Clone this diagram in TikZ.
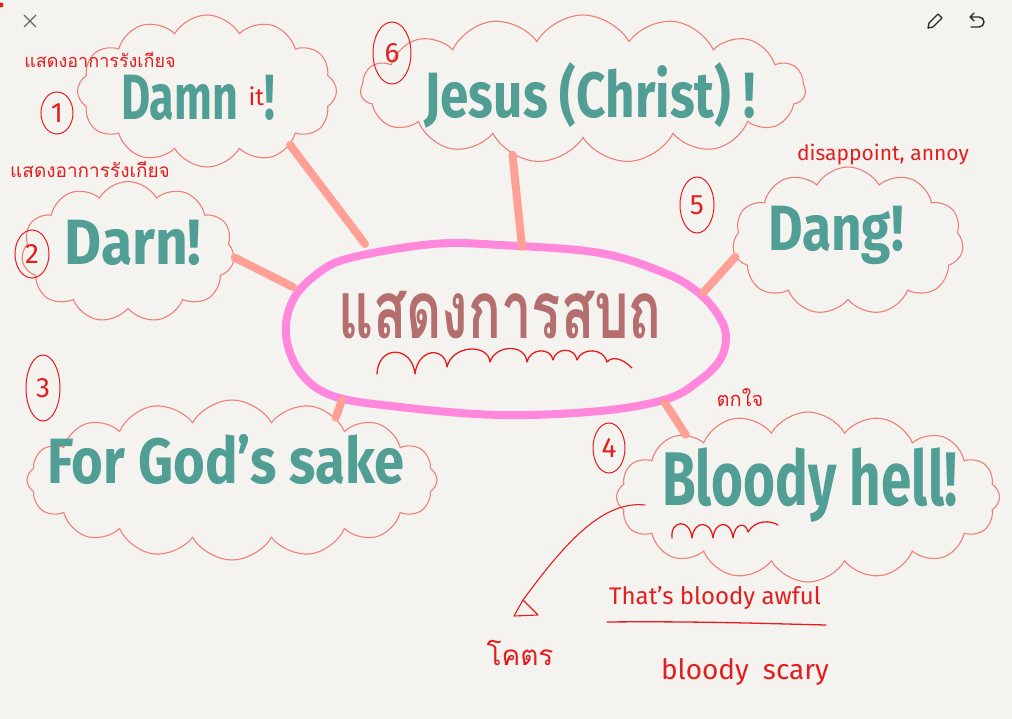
\documentclass[tikz,border=0pt]{standalone}
\usepackage{fontspec}
\setmainfont{Fira Sans}
\newfontfamily\thai[Script=Thai]{Loma}
\usetikzlibrary{shapes.symbols,shapes.geometric,arrows.meta}
\definecolor{bgc}{RGB}{245,243,240}
\definecolor{tealc}{RGB}{80,158,148}
\definecolor{cloudc}{RGB}{238,128,118}
\definecolor{linkc}{RGB}{255,160,150}
\definecolor{pinkc}{RGB}{255,136,220}
\definecolor{brownc}{RGB}{180,110,110}
\definecolor{ink}{RGB}{226,30,30}
\definecolor{iconc}{RGB}{40,40,40}
\newcommand{\hw}[2]{\scalebox{#1}[1]{#2}}
\tikzset{
  cloudbox/.style={cloud, draw=cloudc, line width=1.1pt, cloud ignores aspect, inner sep=0pt, cloud puff arc=120},
  big/.style={text=tealc, font=\fontsize{64}{64}\selectfont\bfseries, inner sep=0pt},
  link/.style={draw=linkc, line width=8pt, line cap=round},
  note/.style={text=ink, inner sep=0pt},
  numc/.style={ellipse, draw=ink, line width=1pt, inner sep=0pt, text=ink, font=\fontsize{28}{28}\selectfont},
  inkline/.style={draw=ink, line width=1.3pt, line cap=round, line join=round},
}
\begin{document}
\begin{tikzpicture}[x=1pt,y=-1pt]
\fill[bgc] (0,0) rectangle (1012,719);
\useasboundingbox (0,0) rectangle (1012,719);

% icons
\fill[ink] (1,5) circle (2.5);
\draw[iconc!70, line width=1.2pt] (24,15) -- (36,27) (24,27) -- (36,15);
\draw[iconc, line width=1.3pt, line join=round] (928,28) -- (929,23) -- (938,14) -- (942,18) -- (933,27) -- cycle;
\draw[iconc, line width=1.4pt, line cap=round, line join=round] (974,13) -- (970,17) -- (974,21) (970,17) -- (979,17) arc[start angle=-90, end angle=90, radius=5] -- (971,27);

% clouds
\node[cloudbox, cloud puffs=12, minimum width=259pt, minimum height=152pt] (c1) at (207,91) {};
\node[cloudbox, cloud puffs=15, minimum width=445pt, minimum height=148pt] (c6) at (583,89) {};
\node[cloudbox, cloud puffs=11, minimum width=213pt, minimum height=141pt] (c2) at (128,252) {};
\node[cloudbox, cloud puffs=11, minimum width=231pt, minimum height=148pt] (c5) at (848,241) {};
\node[cloudbox, cloud puffs=16, minimum width=410pt, minimum height=160pt] (c3) at (232,480) {};
\node[cloudbox, cloud puffs=16, minimum width=383pt, minimum height=170pt] (c4) at (808,497) {};

% central topic
\draw[pinkc, line width=8pt] plot[smooth cycle, tension=0.6] coordinates {
 (500,245) (600,253) (667,274) (700,294) (720,318) (726,338) (720,360) (700,380)
 (667,399) (600,411) (500,415) (400,407) (333,396) (300,372) (286,335) (293,300)
 (317,274) (350,258) (433,244)};
\coordinate (e1) at (365,244);
\coordinate (e2) at (293,287);
\coordinate (e3) at (522,247);
\coordinate (e4) at (703,293);
\coordinate (e5) at (342,400);
\coordinate (e6) at (665,403);
\node[text=brownc, inner sep=0pt, font=\thai\bfseries\fontsize{80}{80}\selectfont] (topic) at (500,315) {\hw{0.68}{แสดงการสบถ}};

% connectors
\draw[link] (c1.-33) -- (e1);
\draw[link] (c2.-3) -- (e2);
\draw[link] (c6.-137) -- (e3);
\draw[link] (c5.-172) -- (e4);
\draw[link] (c3.31) -- (e5);
\draw[link] (c4.153) -- (e6);

% main phrases
\node[big] (t1) at (198,98) {\hw{0.7}{Damn}\,\raisebox{14pt}{\fontsize{24}{24}\selectfont\color{ink}\mdseries it}\hw{0.7}{!}};
\node[big] (t6) at (590,95) {\hw{0.8}{Jesus (Christ) !}};
\node[big] (t2) at (133,243) {\hw{0.89}{Darn!}};
\node[big] (t5) at (836,235) {\hw{0.83}{Dang!}};
\node[big] (t3) at (226,460) {\hw{0.85}{For God's sake}};
\node[big, font=\fontsize{76}{76}\selectfont\bfseries] (t4) at (810,485) {\hw{0.72}{Bloody hell!}};

% numbers
\node[numc, minimum width=32pt, minimum height=42pt] (n1) at (57,113) {1};
\node[numc, minimum width=34pt, minimum height=48pt] (n2) at (32,254) {2};
\node[numc, minimum width=34pt, minimum height=66pt] (n3) at (43,388) {3};
\node[numc, minimum width=32pt, minimum height=50pt] (n4) at (609,448) {4};
\node[numc, minimum width=34pt, minimum height=56pt] (n5) at (697,205) {5};
\node[numc, minimum width=38pt, minimum height=62pt] (n6) at (392,53) {6};

% notes
\node[note, font=\thai\fontsize{18}{18}\selectfont] (a1) at (100,60) {แสดงอาการรังเกียจ};
\node[note, font=\thai\fontsize{19}{19}\selectfont] (a2) at (90,170) {แสดงอาการรังเกียจ};
\node[note, font=\fontsize{21}{21}\selectfont] (a5) at (883,155) {disappoint, annoy};
\node[note, font=\thai\fontsize{20}{20}\selectfont] (a4) at (740,398) {ตกใจ};
\node[note, font=\thai\fontsize{28}{28}\selectfont] (kot) at (520,653) {โคตร};
\node[note, font=\fontsize{24}{24}\selectfont] (aw) at (715,598) {That's bloody awful};
\node[note, font=\fontsize{28}{28}\selectfont] (sc) at (745,672) {bloody\hspace{14pt}scary};

% underline & squiggles
\draw[inkline] (607,622) .. controls (700,621) and (780,624) .. (826,625);
\draw[inkline] (377,374) .. controls (378,345) and (412,345) .. (415,374)
  .. controls (418,348) and (445,346) .. (447,367)
  .. controls (452,345) and (488,343) .. (490,362)
  .. controls (495,345) and (525,343) .. (527,362)
  .. controls (530,348) and (551,347) .. (553,360)
  .. controls (556,347) and (575,347) .. (577,360)
  .. controls (582,347) and (604,348) .. (607,362)
  .. controls (612,356) and (622,358) .. (632,368);
\draw[inkline] (672,538) .. controls (670,520) and (690,518) .. (692,538)
  .. controls (694,520) and (711,520) .. (713,538)
  .. controls (715,520) and (731,520) .. (733,538)
  .. controls (735,522) and (746,522) .. (748,532)
  .. controls (755,520) and (770,520) .. (778,525);

% arrow to โคตร
\coordinate (arrS) at (645,505);
\coordinate (tip) at (523,600);
\draw[inkline, line width=1.1pt] (arrS) .. controls (600,500) and (560,550) .. (tip);
\draw[inkline, line width=1.1pt] (tip) -- (514,616) -- (538,615) -- cycle;
\end{tikzpicture}
\end{document}
